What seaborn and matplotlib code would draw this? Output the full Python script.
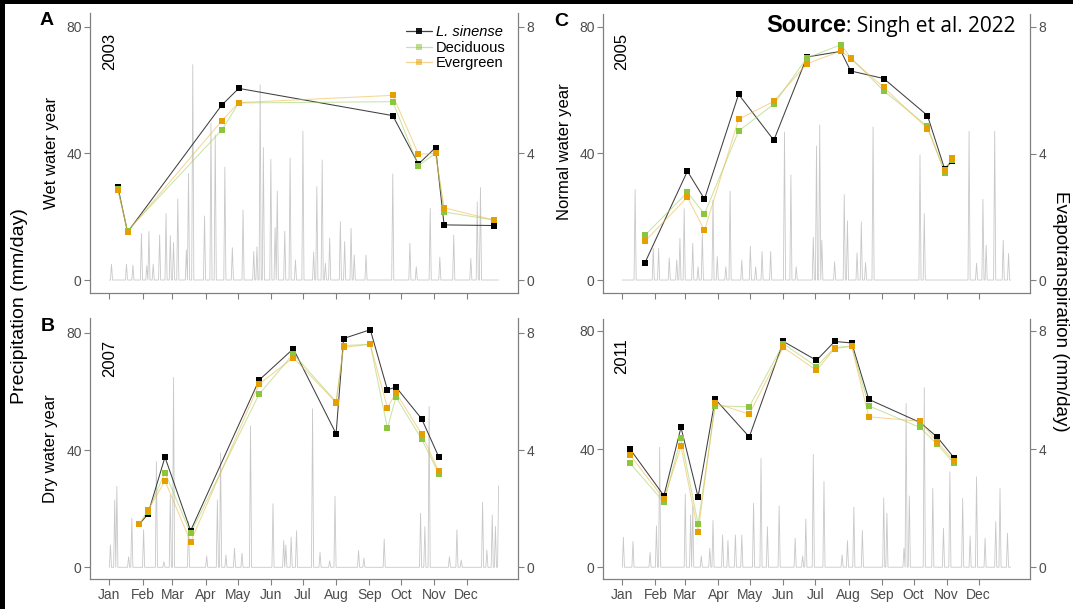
import numpy as np
import pandas as pd
import matplotlib
matplotlib.use("Agg")
import matplotlib.pyplot as plt
import matplotlib.dates as mdates
from matplotlib.ticker import FixedLocator
from matplotlib.lines import Line2D
from matplotlib.patches import Rectangle
import seaborn as sns

# ---------------- data ----------------
series_names = ["L. sinense", "Deciduous", "Evergreen"]
month_labels = ["Jan", "Feb", "Mar", "Apr", "May", "Jun", "Jul", "Aug", "Sep", "Oct", "Nov", "Dec"]

# Panel A: 2003 (wet water year)
a_dates = ["2003-01-09", "2003-01-18", "2003-04-16", "2003-05-02", "2003-09-23",
           "2003-10-17", "2003-11-02", "2003-11-10", "2003-12-27"]
a_lsinense = [2.93, 1.51, 5.52, 6.05, 5.19, 3.66, 4.18, 1.74, 1.72]
a_deciduous = [2.86, 1.56, 4.73, 5.59, 5.63, 3.61, 4.00, 2.15, 1.89]
a_evergreen = [2.85, 1.53, 5.02, 5.60, 5.83, 3.97, 4.00, 2.28, 1.89]
a_rain_day = [2, 16, 22, 30, 35, 37, 41, 47, 53, 57, 60, 64, 72, 74, 78, 89, 95, 99, 108, 115,
              125, 135, 138, 141, 144, 151, 155, 157, 164, 169, 174, 181, 191, 194, 199, 202, 206,
              216, 220, 226, 229, 240, 265, 281, 287, 300, 309, 322, 338, 344, 347]
a_rain_mm = [5, 5, 4.7, 14.7, 4.5, 15.3, 5, 14.2, 21, 14, 11.8, 25.6, 9.5, 33.7, 68, 20.2, 49.5,
             45.8, 35.6, 10.2, 22.1, 9, 10.5, 61.6, 41.8, 38.1, 16.5, 28.1, 15.4, 38.5, 6.3, 47,
             8.8, 29.5, 37.9, 5.3, 13.3, 18.4, 12.1, 16.3, 7.9, 7.9, 33.5, 11.6, 4.2, 22.6, 7.2,
             14.2, 6.8, 24.7, 29.2]

# Panel B: 2007 (dry water year)
b_dates = ["2007-01-29", "2007-02-06", "2007-02-22", "2007-03-18", "2007-05-21", "2007-06-22",
           "2007-08-01", "2007-08-08", "2007-09-02", "2007-09-18", "2007-09-26", "2007-10-20",
           "2007-11-05"]
b_lsinense = [1.47, 1.81, 3.76, 1.25, 6.39, 7.46, 4.56, 7.81, 8.11, 6.06, 6.15, 5.07, 3.77]
b_deciduous = [1.47, 1.90, 3.23, 1.16, 5.91, 7.28, 5.65, 7.57, 7.61, 4.75, 5.81, 4.38, 3.20]
b_evergreen = [1.47, 1.94, 2.95, 0.87, 6.25, 7.16, 5.62, 7.51, 7.61, 5.44, 5.96, 4.55, 3.27]
b_rain_day = [1, 5, 7, 18, 21, 32, 44, 51, 57, 60, 74, 91, 101, 104, 109, 117, 124, 132, 153, 163,
              165, 170, 175, 190, 197, 206, 211, 233, 238, 257, 291, 295, 299, 318, 325, 329, 349,
              353, 358, 361, 364]
b_rain_mm = [7.6, 23, 27.6, 3.6, 16.8, 12.8, 36.1, 1.9, 24.7, 64.8, 15.6, 3.9, 23, 39, 4.2, 6.5,
             4.8, 48.3, 21.7, 9.1, 7.6, 10.3, 12.5, 54.1, 5.1, 2.2, 24.2, 5.7, 3.1, 9.6, 18.5,
             13.9, 54.9, 3.6, 12.8, 2.5, 22.2, 5.9, 17.9, 13.9, 27.8]

# Panel C: 2005 (normal water year)
c_dates = ["2005-01-22", "2005-03-03", "2005-03-19", "2005-04-20", "2005-05-23", "2005-06-23",
           "2005-07-25", "2005-08-03", "2005-09-03", "2005-10-14", "2005-10-30", "2005-11-06"]
c_lsinense = [0.53, 3.44, 2.56, 5.87, 4.42, 7.05, 7.23, 6.61, 6.37, 5.20, 3.52, 3.75]
c_deciduous = [1.41, 2.77, 2.09, 4.71, 5.56, 7.02, 7.44, 7.03, 5.98, 4.86, 3.39, 3.80]
c_evergreen = [1.22, 2.62, 1.57, 5.08, 5.65, 6.84, 7.24, 7.00, 6.09, 4.79, 3.47, 3.85]
c_rain_day = [12, 29, 34, 44, 51, 54, 58, 66, 71, 75, 85, 89, 97, 101, 112, 120, 125, 131, 139,
              152, 158, 163, 179, 182, 185, 187, 199, 208, 211, 220, 224, 228, 235, 279, 283, 325,
              332, 338, 341, 349, 357, 362]
c_rain_mm = [28.6, 10, 10, 7, 6.3, 13.2, 22.6, 11.6, 4.2, 14.7, 25.3, 7.4, 4.2, 28.1, 6.3, 10.7,
             4.2, 9, 9, 46.8, 33.2, 4.2, 13.5, 42.4, 49, 12.6, 5.8, 27, 18.7, 8.6, 18.4, 5.5,
             48.4, 39.5, 21, 47, 5.3, 25.5, 11, 47, 12.6, 8.4]

# Panel D: 2011
d_dates = ["2011-01-08", "2011-02-09", "2011-02-25", "2011-03-13", "2011-03-29", "2011-04-30",
           "2011-06-01", "2011-07-02", "2011-07-19", "2011-08-04", "2011-08-20", "2011-10-07",
           "2011-10-23", "2011-11-08"]
d_lsinense = [4.01, 2.42, 4.73, 2.38, 5.69, 4.41, 7.64, 7.00, 7.64, 7.59, 5.68, 4.90, 4.41, 3.70]
d_deciduous = [3.53, 2.20, 4.37, 1.46, 5.46, 5.43, 7.56, 6.79, 7.43, 7.49, 5.46, 4.73, 4.16, 3.52]
d_evergreen = [3.81, 2.30, 4.09, 1.19, 5.55, 5.18, 7.44, 6.66, 7.40, 7.47, 5.09, 4.94, 4.25, 3.59]
d_rain_day = [1, 10, 26, 32, 35, 59, 64, 66, 74, 82, 85, 94, 99, 106, 112, 123, 130, 136, 147, 162,
              169, 172, 179, 189, 206, 211, 217, 225, 245, 248, 264, 266, 269, 283, 291, 301, 307,
              319, 326, 332, 340, 350, 354, 361]
d_rain_mm = [10.1, 8.7, 5, 14, 40.6, 24.8, 17.7, 20.5, 3.8, 6.4, 15.8, 10.9, 9, 10.9, 10.9, 21.6,
             36.8, 13.7, 20.7, 9.8, 3.8, 16.3, 38.2, 29, 4.2, 9, 20.3, 12.4, 23.5, 18.3, 6.4, 55.4,
             24.1, 60.8, 26.7, 13.2, 32.3, 23.3, 10.6, 30.6, 9.8, 15.4, 26.7, 11.5]

# ---------------- style ----------------
sns.set_theme(style="white")
plt.rcParams["font.family"] = ["Liberation Sans", "DejaVu Sans"]
plt.rcParams["text.color"] = "black"
plt.rcParams["axes.labelcolor"] = "black"

W, H = 1073, 609
fig = plt.figure(figsize=(W / 100, H / 100), dpi=100)
fig.patch.set_facecolor("white")

line_colors = ["#2b2b2b", "#9ccf5a", "#f0b43c"]
line_alpha = [0.9, 0.55, 0.55]
marker_colors = ["#000000", "#8cc63e", "#e69f00"]
SPINE = "#808080"
TICKLAB = "#4d4d4d"


def px_rect(left, top, right, bottom):
    return [left / W, 1 - bottom / H, (right - left) / W, (bottom - top) / H]


panels = [
    dict(year=2003, dates=a_dates, vals=[a_lsinense, a_deciduous, a_evergreen],
         rday=a_rain_day, rmm=a_rain_mm, rect=px_rect(90, 13, 518, 293), ylim=(-4.1, 84.3),
         bottom_labels=False, year_pos=(0.0467, 0.929)),
    dict(year=2007, dates=b_dates, vals=[b_lsinense, b_deciduous, b_evergreen],
         rday=b_rain_day, rmm=b_rain_mm, rect=px_rect(90, 318, 518, 579.3), ylim=(-4.1, 85.1),
         bottom_labels=True, year_pos=(0.0467, 0.916)),
    dict(year=2005, dates=c_dates, vals=[c_lsinense, c_deciduous, c_evergreen],
         rday=c_rain_day, rmm=c_rain_mm, rect=px_rect(603, 14, 1030, 293), ylim=(-4.1, 84.1),
         bottom_labels=False, year_pos=(0.0445, 0.932)),
    dict(year=2011, dates=d_dates, vals=[d_lsinense, d_deciduous, d_evergreen],
         rday=d_rain_day, rmm=d_rain_mm, rect=px_rect(603, 319.3, 1030, 579.3), ylim=(-4.1, 83.9),
         bottom_labels=True, year_pos=(0.0445, 0.928)),
]

for p in panels:
    yr = p["year"]
    days = pd.date_range(f"{yr}-01-01", periods=365, freq="D")
    rain = np.zeros(365)
    rain[np.array(p["rday"])] = p["rmm"]
    rain_df = pd.DataFrame({"date": days, "precip": rain})

    ax = fig.add_axes(p["rect"])
    ax.set_facecolor("white")
    sns.lineplot(data=rain_df, x="date", y="precip", ax=ax, color="#c8c8c8", linewidth=0.6)
    ax.set_ylim(*p["ylim"])
    ax.set_yticks([0, 40, 80])
    ax.set_xlabel("")
    ax.set_ylabel("")

    ax2 = ax.twinx()
    et_dates = pd.to_datetime(p["dates"])
    for i, name in enumerate(series_names):
        df = pd.DataFrame({"date": et_dates, "et": p["vals"][i]})
        sns.lineplot(data=df, x="date", y="et", ax=ax2, color=line_colors[i],
                     linewidth=0.75, alpha=line_alpha[i], zorder=2 + i)
        sns.scatterplot(data=df, x="date", y="et", ax=ax2, color=marker_colors[i],
                        marker="s", s=17, linewidth=0, zorder=5 + i)
    ax2.set_ylim(p["ylim"][0] / 10, p["ylim"][1] / 10)
    ax2.set_yticks([0, 4, 8])
    ax2.set_ylabel("")
    ax2.set_xlabel("")

    t0 = pd.Timestamp(f"{yr}-01-01")
    ax.set_xlim(t0 - pd.Timedelta(days=18.1), t0 + pd.Timedelta(days=382.1))
    month_starts = [mdates.date2num(pd.Timestamp(f"{yr}-{m:02d}-01")) for m in range(1, 13)]
    ax.xaxis.set_major_locator(FixedLocator(month_starts))
    ax.set_xticklabels(month_labels)

    for a in (ax, ax2):
        for s in a.spines.values():
            s.set_visible(False)
    ax.spines["left"].set_visible(True)
    ax.spines["bottom"].set_visible(True)
    ax2.spines["right"].set_visible(True)
    for a, sides in ((ax, ("left", "bottom")), (ax2, ("right",))):
        for sd in sides:
            a.spines[sd].set_color(SPINE)
            a.spines[sd].set_linewidth(0.9)

    ax.tick_params(axis="both", which="major", bottom=True, left=True, direction="out",
                   length=4, width=0.8, color=SPINE, labelcolor=TICKLAB, labelsize=10, pad=2)
    ax2.tick_params(axis="y", right=True, direction="out", length=4, width=0.8, color=SPINE,
                    labelcolor=TICKLAB, labelsize=10, pad=2)
    ax.tick_params(axis="x", labelbottom=p["bottom_labels"])
    ax.grid(False)
    ax2.grid(False)

    ax.text(p["year_pos"][0], p["year_pos"][1], str(yr), transform=ax.transAxes,
            rotation=90, ha="center", va="top", fontsize=12, color="black")

    if yr == 2003:
        handles = [Line2D([0], [0], color=line_colors[i], alpha=line_alpha[i], lw=0.9,
                          marker="s", markersize=4.2, markerfacecolor=marker_colors[i],
                          markeredgewidth=0) for i in range(3)]
        leg = fig.legend(handles, series_names, loc="upper left",
                         bbox_to_anchor=(406 / W, 1 - 25 / H), bbox_transform=fig.transFigure,
                         frameon=False, fontsize=10.5, handlelength=1.75, handletextpad=0.3,
                         labelspacing=0.12, borderpad=0, borderaxespad=0)
        for t in leg.get_texts():
            t.set_color("black")
        leg.get_texts()[0].set_fontstyle("italic")

# panel letters
for letter, (x, y) in {"A": (40, 12), "B": (41, 318), "C": (554, 13)}.items():
    fig.text(x / W, 1 - y / H, letter, ha="left", va="top", fontsize=14, fontweight="bold",
             color="black")

# y labels of panels
fig.text(51.7 / W, 1 - 153 / H, "Wet water year", rotation=90, ha="center", va="center", fontsize=12)
fig.text(50 / W, 1 - 449 / H, "Dry water year", rotation=90, ha="center", va="center", fontsize=12)
fig.text(564.5 / W, 1 - 152 / H, "Normal water year", rotation=90, ha="center", va="center", fontsize=12)

# global axis titles
fig.text(20 / W, 1 - 306 / H, "Precipitation (mm/day)", rotation=90, ha="center", va="center", fontsize=14)
fig.text(1061 / W, 1 - 311 / H, "Evapotranspiration (mm/day)", rotation=270, ha="center",
         va="center", fontsize=13.5)

# source annotation
t2 = fig.text(1016 / W, 1 - 32 / H, ": Singh et al. 2022", ha="right", va="baseline",
              fontsize=15, family=["Open Sans", "DejaVu Sans"], color="black")
fig.canvas.draw()
bb = t2.get_window_extent(renderer=fig.canvas.get_renderer())
fig.text(bb.x0 / W, 1 - 32 / H, "Source", ha="right", va="baseline", fontsize=17,
         fontweight="bold", color="black")

# dark frame bands of the screenshot
fig.patches.append(Rectangle((0, 1 - 4 / H), 1, 4 / H, transform=fig.transFigure,
                             facecolor="black", edgecolor="none", zorder=10))
fig.patches.append(Rectangle((0, 0), 5 / W, 1, transform=fig.transFigure,
                             facecolor="black", edgecolor="none", zorder=10))

fig.savefig("out.png", dpi=100)
